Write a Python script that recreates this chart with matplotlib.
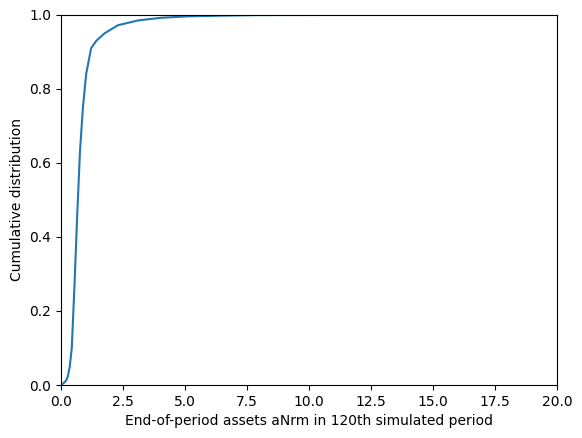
import matplotlib
matplotlib.use("Agg")
import matplotlib.pyplot as plt

# Valores (ativos no fim do período e distribuição acumulada)
assets = [0.0, 0.1, 0.2, 0.27, 0.35, 0.43, 0.54, 0.65, 0.76, 0.88, 1.01, 1.21, 1.42, 1.75,
          2.29, 3.1, 4.0, 5.1, 6.5, 8.0, 12.0, 20.0]
cdf = [0.0, 0.005, 0.012, 0.023, 0.05, 0.10, 0.27, 0.46, 0.63, 0.75, 0.84, 0.91, 0.93, 0.95,
       0.972, 0.985, 0.992, 0.996, 0.998, 0.9995, 1.0, 1.0]

fig = plt.figure(figsize=(5.82, 4.38), dpi=100)
plt.plot(assets, cdf)
plt.xlim(0, 20)
plt.ylim(0, 1)
plt.xlabel("End-of-period assets aNrm in 120th simulated period")
plt.ylabel("Cumulative distribution")
plt.subplots_adjust(left=0.105, right=0.957, top=0.966, bottom=0.121)
plt.savefig("out.png")
